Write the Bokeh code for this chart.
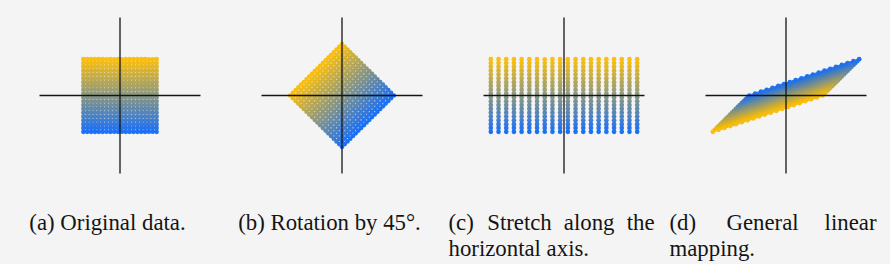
import numpy as np
from bokeh.plotting import figure
from bokeh.models import ColumnDataSource, Label, LinearColorMapper
from bokeh.layouts import row
from bokeh.embed import file_html
from bokeh.resources import INLINE

# Coordinates of the 20 x 20 sample grid on [-1, 1]
grid_values = [-1.0, -0.8947, -0.7895, -0.6842, -0.5789, -0.4737, -0.3684,
               -0.2632, -0.1579, -0.0526, 0.0526, 0.1579, 0.2632, 0.3684,
               0.4737, 0.5789, 0.6842, 0.7895, 0.8947, 1.0]

# Linear maps applied to the grid
rotation_deg = 45.0
identity_matrix = [[1.0, 0.0], [0.0, 1.0]]
stretch_matrix = [[2.0, 0.0], [0.0, 1.0]]
general_matrix = [[1.5, -0.5], [0.5, -0.5]]

# Extent of the drawn coordinate axes
axis_x_limit = 2.2
axis_y_limit = 2.15

# Caption words
caption_a = ["(a) Original data."]
caption_b = ["(b) Rotation by 45°."]
caption_c1 = ["(c)", "Stretch", "along", "the"]
caption_c2 = ["horizontal axis."]
caption_d1 = ["(d)", "General", "linear"]
caption_d2 = ["mapping."]

theta = np.deg2rad(rotation_deg)
rotation_matrix = [[np.cos(theta), -np.sin(theta)], [np.sin(theta), np.cos(theta)]]

BG = "#f4f4f4"
INK = "#141414"
BLUE = (16, 106, 246)
YELLOW = (250, 188, 4)
palette = ["#%02x%02x%02x" % tuple(int(round(b + (yv - b) * t)) for b, yv in zip(BLUE, YELLOW))
           for t in np.linspace(0, 1, 256)]
mapper = LinearColorMapper(palette=palette, low=-1, high=1)

FONT = "Liberation Serif"
FONT_SIZE = "22.8px"
LINE1_Y = 42.3   # caption baselines, measured up from the bottom of the panel
LINE2_Y = 15.7

# Panel geometry in pixels
PANEL_H = 264
AXES_W, AXES_H = 161, 156
AXES_LEFT, AXES_TOP = 39, 17
PX_X = AXES_W / (2 * axis_x_limit)
PX_Y = AXES_H / (2 * axis_y_limit)


def make_panel(matrix, labels, width=222):
    gx, gy = np.meshgrid(grid_values, grid_values)
    pts = np.array(matrix) @ np.vstack([gx.ravel(), gy.ravel()])
    src = ColumnDataSource(dict(x=pts[0], y=pts[1], c=gy.ravel()))

    x0 = -axis_x_limit - AXES_LEFT / PX_X
    y1 = axis_y_limit + AXES_TOP / PX_Y
    p = figure(frame_width=width, frame_height=PANEL_H,
               x_range=(x0, x0 + width / PX_X), y_range=(y1 - PANEL_H / PX_Y, y1),
               output_backend="svg", toolbar_location=None, min_border=0,
               x_axis_location=None, y_axis_location=None,
               background_fill_color=BG, border_fill_color=BG,
               outline_line_color=None)
    p.grid.visible = False

    p.scatter("x", "y", source=src, size=4.7, marker="circle",
              fill_color={"field": "c", "transform": mapper},
              line_color=None, fill_alpha=0.95)
    # coordinate axes through the origin
    p.segment(x0=[-axis_x_limit, 0], y0=[0, -axis_y_limit],
              x1=[axis_x_limit, 0], y1=[0, axis_y_limit],
              line_color=INK, line_width=1.3)

    for text, x, y, align in labels:
        p.add_layout(Label(x=x, y=y, x_units="screen", y_units="screen", text=text,
                           text_font=FONT, text_font_size=FONT_SIZE, text_color=INK,
                           text_align=align, text_baseline="alphabetic"))
    return p


pa = make_panel(identity_matrix, [(caption_a[0], 107, LINE1_Y, "center")])
pb = make_panel(rotation_matrix, [(caption_b[0], 107, LINE1_Y, "center")])
pc = make_panel(stretch_matrix, [
    (caption_c1[0], 4, LINE1_Y, "left"),
    (caption_c1[1], 42.7, LINE1_Y, "left"),
    (caption_c1[2], 119.3, LINE1_Y, "left"),
    (caption_c1[3], 210, LINE1_Y, "right"),
    (caption_c2[0], 4, LINE2_Y, "left"),
])
pd = make_panel(general_matrix, [
    (caption_d1[0], 3, LINE1_Y, "left"),
    (caption_d1[1], 60, LINE1_Y, "left"),
    (caption_d1[2], 210, LINE1_Y, "right"),
    (caption_d2[0], 3, LINE2_Y, "left"),
], width=224)

layout = row(pa, pb, pc, pd, spacing=0)
layout.styles = {"background-color": BG}
open("out.html", "w").write(file_html(layout, INLINE))
